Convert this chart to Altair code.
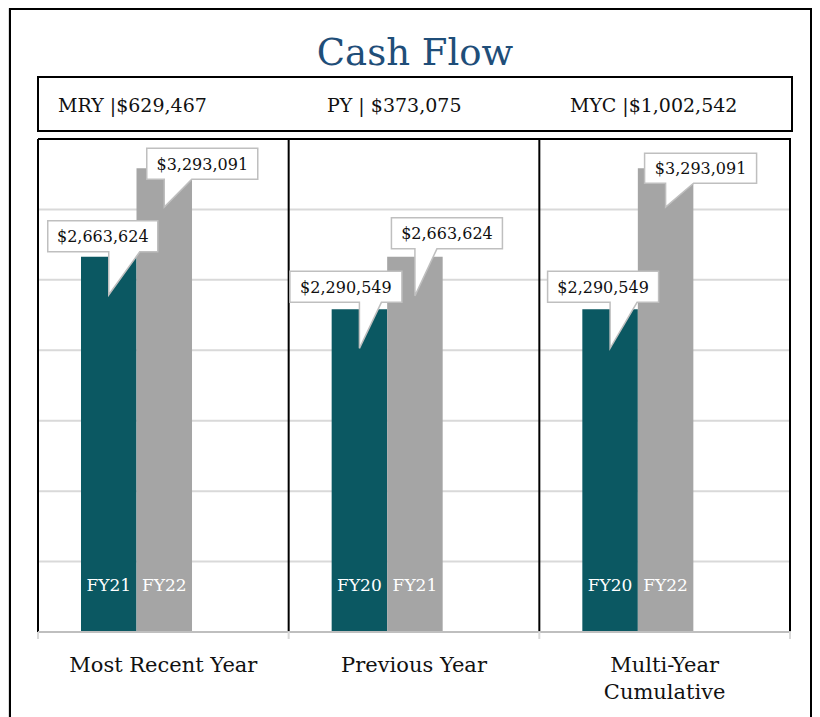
import altair as alt
import pandas as pd

# ---- data ----
PANELS = ["Most Recent Year", "Previous Year", "Multi-Year Cumulative"]
PANEL_LABELS = ["Most Recent Year", "Previous Year", "Multi-Year\nCumulative"]
FIRST_VALUES = [2663624, 2290549, 2290549]
SECOND_VALUES = [3293091, 2663624, 3293091]
FIRST_YEARS = ["FY21", "FY20", "FY20"]
SECOND_YEARS = ["FY22", "FY21", "FY22"]
HEADER_TEXTS = ["MRY |$629,467", "PY | $373,075", "MYC |$1,002,542"]
GRID_VALUES = [500000, 1000000, 1500000, 2000000, 2500000, 3000000]
Y_MAX = 3500000
TITLE = "Cash Flow"

# ---- style ----
TEAL = "#0B5862"
GRAY = "#A5A5A5"
FONT = "DejaVu Serif"
# callout geometry per bar (left, right, top, bottom, tail right, tip) in px relative to bar top-center
CALLOUT_GEOM = {
    ("a", 0): (-61, 49, -36, -5, 31, 38),
    ("a", 1): (-69.5, 42.5, -38, -7, 22, 39),
    ("a", 2): (-62.5, 48.5, -38, -7, 27, 39),
    ("b", 0): (-17.5, 93.5, -20, 11, 27.5, 39),
    ("b", 1): (-23.5, 87.5, -39, -8, 22, 39),
    ("b", 2): (-21, 91, -15, 15, 28, 39),
}

rows = []
for i, p in enumerate(PANELS):
    for s, vals, yrs in (("a", FIRST_VALUES, FIRST_YEARS), ("b", SECOND_VALUES, SECOND_YEARS)):
        L, R, T, B, tr, tip = CALLOUT_GEOM[(s, i)]
        path = f"M{L},{T}L{R},{T}L{R},{B}L{tr},{B}L0,{tip}L0,{B}L{L},{B}Z"
        rows.append({
            "id": f"{s}{i}",
            "panel": p,
            "series": s,
            "value": vals[i],
            "year": yrs[i],
            "label": f"${vals[i]:,}",
            "path": path,
        })
df = pd.DataFrame(rows)
panel_df = pd.DataFrame({"panel": PANELS, "plabel": PANEL_LABELS})
grid_df = pd.DataFrame({"g": GRID_VALUES})
header_df = pd.DataFrame({"t": HEADER_TEXTS, "xpos": [50, 319, 562]})
one = pd.DataFrame({"k": [0]})

xs = alt.Scale(domain=PANELS, range=[30, 782], paddingInner=0, paddingOuter=0)
ys = alt.Scale(domain=[0, Y_MAX], range=[624, 131])
# third slot is an empty spacer so the pair of bars sits left of centre
xo = alt.Scale(domain=["a", "b", "c"], paddingInner=0, paddingOuter=0.758, align=0.511)

X = alt.X("panel:N", scale=xs, axis=None, sort=PANELS)
XO = alt.XOffset("series:N", scale=xo)
Y = alt.Y("value:Q", scale=ys, axis=None)

grid = alt.Chart(grid_df).mark_rule(color="#D9D9D9", strokeWidth=2).encode(
    y=alt.Y("g:Q", scale=ys, axis=None), x=alt.value(30), x2=alt.value(782)
)

bars = alt.Chart(df).mark_bar(width={"band": 1}).encode(
    x=X, xOffset=XO, y=Y, y2=alt.datum(0),
    color=alt.Color("series:N", scale=alt.Scale(domain=["a", "b"], range=[TEAL, GRAY]), legend=None),
)

years = alt.Chart(df).mark_text(font=FONT, fontSize=17, color="white", baseline="alphabetic").encode(
    x=X, xOffset=XO, y=alt.value(583), text="year:N"
)

dividers = alt.Chart(panel_df).mark_rule(color="black", strokeWidth=2).encode(
    x=alt.X("panel:N", scale=xs, axis=None, sort=PANELS, bandPosition=0),
    y=alt.value(131), y2=alt.value(624),
)
right_border = alt.Chart(one).mark_rule(color="black", strokeWidth=2).encode(
    x=alt.value(782), y=alt.value(131), y2=alt.value(624)
)
top_border = alt.Chart(one).mark_rule(color="black", strokeWidth=2).encode(
    x=alt.value(30), x2=alt.value(783), y=alt.value(131)
)
axis_line = alt.Chart(one).mark_rule(color="#BFBFBF", strokeWidth=2).encode(
    x=alt.value(30), x2=alt.value(783), y=alt.value(624)
)
ticks = alt.Chart(panel_df).mark_rule(color="#D9D9D9", strokeWidth=2).encode(
    x=alt.X("panel:N", scale=xs, axis=None, sort=PANELS, bandPosition=0),
    y=alt.value(624), y2=alt.value(631),
)
tick_end = alt.Chart(one).mark_rule(color="#D9D9D9", strokeWidth=2).encode(
    x=alt.value(782), y=alt.value(624), y2=alt.value(631)
)

callouts = alt.Chart(df).mark_point(
    filled=True, fill="white", stroke="#BFBFBF", strokeWidth=1.5, opacity=1, size=4
).encode(x=X, xOffset=XO, y=Y, shape=alt.Shape("path:N", scale=None))

callout_texts = []
for (s, i), (L, R, T, B, tr, tip) in CALLOUT_GEOM.items():
    callout_texts.append(
        alt.Chart(df).transform_filter(alt.datum.id == f"{s}{i}").mark_text(
            font=FONT, fontSize=16, color="#111", baseline="middle", align="center",
            dx=(L + R) / 2, dy=(T + B) / 2 + 1,
        ).encode(x=X, xOffset=XO, y=Y, text="label:N")
    )

header_box = alt.Chart(one).mark_rect(fill="white", stroke="black", strokeWidth=2).encode(
    x=alt.value(30), x2=alt.value(784), y=alt.value(69), y2=alt.value(123)
)
header_text = alt.Chart(header_df).mark_text(
    font=FONT, fontSize=19, color="#111", align="left", baseline="alphabetic"
).encode(x=alt.X("xpos:Q", scale=None), y=alt.value(104), text="t:N")

title = alt.Chart(one).mark_text(
    font=FONT, fontSize=37, color="#1F4E79", align="center", baseline="alphabetic"
).encode(x=alt.value(407), y=alt.value(57), text=alt.value(TITLE))

xlabels = alt.Chart(panel_df).mark_text(
    font=FONT, fontSize=21, color="#111", align="center", baseline="alphabetic",
    lineBreak="\n", lineHeight=27,
).encode(x=alt.X("panel:N", scale=xs, axis=None, sort=PANELS), y=alt.value(664), text="plabel:N")

frame_left = alt.Chart(one).mark_rule(color="black", strokeWidth=2).encode(
    x=alt.value(2), y=alt.value(0), y2=alt.value(709)
)
frame_right = alt.Chart(one).mark_rule(color="black", strokeWidth=2).encode(
    x=alt.value(803), y=alt.value(0), y2=alt.value(709)
)
frame_top = alt.Chart(one).mark_rule(color="black", strokeWidth=2).encode(
    x=alt.value(2), x2=alt.value(804), y=alt.value(1)
)

chart = alt.layer(
    grid, bars, years, dividers, right_border, top_border, axis_line, ticks, tick_end,
    callouts, *callout_texts, header_box, header_text, title, xlabels,
    frame_left, frame_right, frame_top,
).resolve_scale(x="shared", y="shared").properties(
    width=804, height=709, padding=0, autosize=alt.AutoSizeParams(type="none")
).configure_view(stroke=None).configure(background="white")

chart.save("out.html", embed_options={"renderer": "svg", "actions": False})
